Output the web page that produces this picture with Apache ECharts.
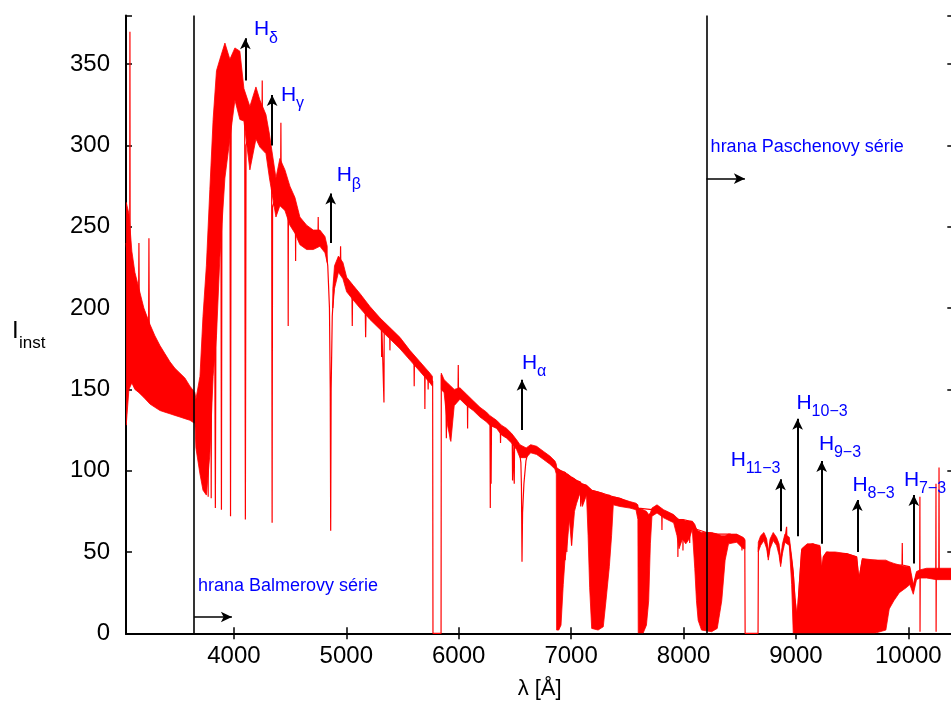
<!DOCTYPE html>
<html><head><meta charset="utf-8">
<script src="https://cdn.jsdelivr.net/npm/echarts@6/dist/echarts.min.js"></script>
<style>html,body{margin:0;padding:0;background:#fff}#c{width:951px;height:709px}</style>
</head><body><div id="c"></div>
<script>
// ---- main spectrum trace (wavelength in Å, instrumental intensity) ----
const specLam = [3042,3060,3073,3075,3077,3092,3119,3150,3155,3160,3199,3240,3244,3248,3297,3342,3386,3431,3475,3520,3564,3609,3646,
3662,3680,3698,3712,3718,3722,3726,3730,3734,3738,3746,3750,3754,3766,3771,3776,3793,3798,3803,3825,3835,3845,3870,3883,3889,3895,3920,3950,3964,3970,3976,4000,4030,4060,4085,4096,4102,4108,
4130,4160,4196,4231,4250,4252,4254,4285,4310,4330,4336,4340,4344,4370,4395,4416,4418,4420,4450,4481,4483,4485,4520,4547,4549,4551,4590,4650,4710,4748,4750,4752,4790,4815,4835,4850,4857,4861,4865,4875,4895,4928,4947,4949,4951,4975,
5003,5050,5053,5056,5121,5168,5172,5176,5210,5260,5312,5314,5316,5333,5335,5337,5386,5388,5390,5477,5566,5602,5604,5606,5655,5697,5699,5701,5726,5728,5730,5768,5771,5843,5845,5862,5885,5890,5894,5898,5903,5920,5925,5930,5950,5994,5996,5998,
6040,6077,6079,6081,6129,6189,6248,6278,6281,6284,6288,6292,6337,6370,6372,6374,6426,6476,6479,6482,6491,6494,6497,6520,6540,6553,6558,6563,6568,6580,6598,6619,6664,6708,6752,6811,6856,6868,
6871,6944,6947,6950,6960,6962,6964,7002,7004,7006,7049,7083,7085,7087,7137,7183,7286,7375,7434,7523,7577,7597,7719,7764,7806,7808,7810,7853,7912,7948,7950,7952,7993,7995,7997,8053,8055,8057,8078,8115,8204,8300,8413,8473,8518,8520,8522,8545,8548,8663,8666,
8686,8715,8740,8754,8770,8798,8828,8850,8864,8880,8902,8915,8917,8919,8941,8962,8976,8991,9010,9030,9051,9100,9150,9214,9229,9244,9273,9350,9450,9540,9560,9590,9700,9800,9871,9944,9946,9948,10008,10044,10073,10101,10103,10104,10106,10162,10244,10246,10247,10249,10271,10273,10275,10400];
const specI = [240,222,214,370,212,205,192,183,240,180,174,168,243,166,161,157,153,150,148,146,144,141,139,
132,126,128,138,136,93,140,142,90,150,160,86,170,190,84,205,225,83,240,270,77,300,325,330,76,338,345,338,332,72,335,345,348,338,325,315,70,300,
306,318,322,316,312,340,311,305,293,282,275,68,262,268,280,284,314,284,277,268,189,267,261,257,229,256,249,244,242,242,256,241,242,238,226,200,150,63,150,195,219,228,228,238,227,223,
215,211,189,210,205,201,182,200,197,193,190,170,189,188,142,187,185,174,184,178,171,168,152,167,164,161,138,160,158,150,157,155,0,0,159,154,150,120,140,135,148,146,119,145,148,149,165,148,
146,144,126,143,140,136,133,131,77,130,92,130,129,126,117,125,123,120,94,119,118,92,117,115,112,105,90,44,74,92,106,112,114,112,110,107,104,103,
101,99,45,99,98,50,98,96,54,96,94,93,78,92,91,88,86,84,83,80,79,77,76,78,75,63.5,74,73,71,70,47,70,70,51,70,69,55.5,69,68,64,62,61,61,59,58,51,58,57,0,0,53,
57,60,55,47,55,60,57,52,43,52,58,59,65.5,58,56,45,37,22,8,30,51,54,55,53,37,47,50,49,49,47,33,45,45,44,42,42,55.5,42,41,27,37,38,84,1,37,37,37,92,1,37,37,102,37,37];

// ---- noise / absorption-band envelopes (lower and upper extent) ----
const bandUV = {
  lam:[3042,3066,3092,3119,3155,3199,3253,3297,3342,3386,3431,3475,3520,3564,3609,3653,3662,3698,3725,3755,3786,3815,3845,3875,3920,3964,4009,4053,4089,4142,4196,4231,4285,4316,4374,4409,4454,4498,4543,4587,4647,4706,4765,4810,4830],
  lo: [128,150,154,150,148,145,141,139,137,136,135,134,133,132,131,129,114,98,88,85,110,158,183,231,280,304,328,316,315,285,304,299,295,280,256,263,260,251,246,239,236,236,238,234,228],
  hi: [265,258,235,222,212,200,190,183,177,172,167,163,160,157,152,148,144,158,195,226,273,316,346,353,363,353,360,358,335,324,336,328,319,307,280,292,285,275,268,256,251,248,248,244,238]
};
const bandGreen = {
  lam:[4880,4895,4930,4970,5003,5061,5121,5210,5299,5388,5477,5566,5655,5744,5766],
  lo: [200,212,222,218,210,205,200,193,187,181,175,168,161,154,152],
  hi: [212,226,232,228,219,214,209,201,194,188,182,174,167,160,158]
};
const bandRed = {
  lam:[5845,5870,5900,5930,5960,6011,6070,6129,6189,6248,6275,6337,6380,6426,6470,6515,6545,6600,6640,6693,6752,6811,6856,6868,6871,6890,6910,6930,6945,6965,6985,7004,7030,7049,7078,7100,7137,7151,7165,7183,7240,7286,7310,7340,7360,7375,7434,7523,7577,7594,7597,7640,7670,7690,7705,7719,7764,7823,7853,7912,7942,7960,7990,8020,8050,8078,8100,8115,8130,8160,8250,8300,8340,8370,8400,8473,8530,8545],
  lo: [150,148,128,118,140,144,140,137,133,130,128,126,122,120,117,113,108,108,111,110,107,104,101,98,2,2,5,30,45,55,70,54,75,80,86,78,85,60,28,3,2,4,20,41,60,79,78,77,76,70,0,0,5,20,55,72,74,71,70,68,60,52,58,55,58,64,40,20,8,2,1,3,20,45,55,56,52,52],
  hi: [160,156,154,152,150,151,147,143,139,136,134,131,128,126,123,119,116,114,116,115,112,109,106,104,102,101,100,99,99,98,97,96,95,94,93,92,91,90,89,88,87,86,85,85,84,84,83,81,80,79,77,76,75,73,74,77,79,76,75,73,71,70,70,69,69,69,67,64,63,62,62,61,60,60,61,61,59,58]
};
const bandIR = {
  lam:[8665,8686,8715,8740,8754,8770,8798,8828,8850,8864,8880,8902,8941,8962,8976,8991,9010,9030,9051,9100,9150,9214,9229,9244,9273,9350,9450,9540,9560,9590,9700,9800,9830,9871,9920,9980,10014,10044,10073,10103,10162,10250,10400],
  lo: [50,54,57,52,45,52,57,54,48,41,49,56,54,30,0,0,0,0,0,0,0,0,0,0,0,0,0,0,0,0,0,2,15,20,25,28,30,24,33,34,34,33,33],
  hi: [56,60,62,58,50,58,62,59,55,46,55,61,59,47,38,22,10,30,52,55,55,54,38,47,50,50,49,47,33,46,45,45,44,43,42,41,41,30,38,39,40,40,40]
};
const bands = [bandUV, bandGreen, bandRed, bandIR];

// ---- annotations ----
const edgeLam = [3646, 8204];
const edgeText = ['hrana Balmerovy série', 'hrana Paschenovy série'];
const edgeTextLam = [3680, 8241];
const edgeTextI = [25.4, 295.4];
const edgeArrowI = [10, 279.6];
const edgeArrowEnd = [3982, 8546];

const lineLam = [4102, 4340, 4861, 6563, 8863, 9015, 9229, 9546, 10049];
const arrowFrom = [340, 300, 240, 125, 62.7, 59.7, 55, 50, 43];
const arrowTo = [366, 331, 270.5, 156, 94.7, 132, 106, 82, 85];
const labelSub = ['δ', 'γ', 'β', 'α', '11−3', '10−3', '9−3', '8−3', '7−3'];
const labelLam = [4178, 4418, 4916, 6562, 8419, 9006, 9205, 9504, 9961];
const labelI = [366.7, 326.7, 277, 161.5, 102, 137, 111.7, 86.5, 89.8];

const xTicks = [4000, 5000, 6000, 7000, 8000, 9000, 10000];

const FONT = '"Liberation Sans", Arial, Helvetica, sans-serif';
const chart = echarts.init(document.getElementById('c'), null, {renderer: 'canvas'});

const markArrows = [];
for (let i = 0; i < lineLam.length; i++) {
  markArrows.push([{coord: [lineLam[i], arrowFrom[i]]}, {coord: [lineLam[i], arrowTo[i]]}]);
}
for (let i = 0; i < edgeLam.length; i++) {
  markArrows.push([{coord: [edgeLam[i], edgeArrowI[i]], lineStyle: {width: 1.5}}, {coord: [edgeArrowEnd[i], edgeArrowI[i]]}]);
}

const axisCommon = {
  type: 'value', axisLine: {show: true, lineStyle: {color: '#000', width: 2}},
  splitLine: {show: false}
};

chart.setOption({
  animation: false,
  backgroundColor: '#fff',
  grid: {left: 126, top: 15.4, right: -2.3, bottom: 75.7, outerBoundsMode: 'none', containLabel: false},
  xAxis: [
    Object.assign({}, axisCommon, {
      min: 3040, max: 10400, position: 'bottom',
      axisTick: {inside: true, length: 6, lineStyle: {color: '#000', width: 1.5}, customValues: xTicks},
      axisLabel: {customValues: xTicks, color: '#000', fontSize: 24, fontFamily: FONT, margin: 11,
        formatter: v => String(v)},
      name: 'λ [Å]', nameLocation: 'middle', nameGap: 45,
      nameTextStyle: {color: '#000', fontSize: 22, fontFamily: FONT}
    }),
    Object.assign({}, axisCommon, {
      min: 3040, max: 10400, position: 'top',
      axisTick: {inside: true, length: 6, lineStyle: {color: '#000', width: 1.5}, customValues: xTicks},
      axisLabel: {show: false}
    })
  ],
  yAxis: [
    Object.assign({}, axisCommon, {
      min: 0, max: 380, interval: 50, position: 'left',
      axisTick: {inside: true, length: 6, lineStyle: {color: '#000', width: 1.5}},
      axisLabel: {color: '#000', fontSize: 24, fontFamily: FONT, margin: 16,
        formatter: v => (v % 50 === 0 ? String(v) : '')}
    }),
    Object.assign({}, axisCommon, {
      min: 0, max: 380, interval: 50, position: 'right',
      axisTick: {inside: true, length: 6, lineStyle: {color: '#000', width: 1.5}},
      axisLabel: {show: false}
    })
  ],
  series: [
    {
      type: 'custom', coordinateSystem: 'cartesian2d', clip: true, silent: true, z: 2,
      data: bands.map((b, i) => [b.lam[0], i]),
      renderItem: (params, api) => {
        const b = bands[api.value(1)];
        const pts = [];
        for (let k = 0; k < b.lam.length; k++) pts.push(api.coord([b.lam[k], b.hi[k]]));
        for (let k = b.lam.length - 1; k >= 0; k--) pts.push(api.coord([b.lam[k], b.lo[k]]));
        return {type: 'polygon', shape: {points: pts}, style: {fill: '#ff0000', stroke: '#ff0000', lineWidth: 0.8}};
      }
    },
    {
      type: 'line', name: 'spektrum', z: 3, clip: true, showSymbol: false, silent: true,
      data: specLam.map((l, i) => [l, specI[i]]),
      lineStyle: {color: '#ff0000', width: 1.2}
    },
    {
      type: 'line', data: [], z: 5, silent: true,
      markLine: {
        silent: true, animation: false, symbol: 'none', label: {show: false},
        lineStyle: {color: '#000', width: 1.6, type: 'solid'},
        data: edgeLam.map(l => ({xAxis: l}))
      }
    },
    {
      type: 'line', data: [], z: 6, silent: true,
      markLine: {
        silent: true, animation: false, symbol: ['none', 'arrow'], symbolSize: [8, 11], label: {show: false},
        lineStyle: {color: '#000', width: 2, type: 'solid'},
        data: markArrows
      }
    }
  ]
});

// text annotations positioned through the axes
const g = [];
const HF = 21, SF = 16;
function txt(text, x, baseline, fs, color, align) {
  return {type: 'text', z: 100, style: {text: text, x: x, y: baseline - 0.35 * fs, fill: color,
    font: fs + 'px ' + FONT, align: align || 'left', verticalAlign: 'middle'}};
}
for (let i = 0; i < labelSub.length; i++) {
  const p = chart.convertToPixel({xAxisIndex: 0, yAxisIndex: 0}, [labelLam[i], labelI[i]]);
  g.push(txt('H', p[0], p[1], HF, '#0000ff'));
  g.push(txt(labelSub[i], p[0] + 15, p[1] + 7, SF, '#0000ff'));
}
for (let i = 0; i < edgeText.length; i++) {
  const p = chart.convertToPixel({xAxisIndex: 0, yAxisIndex: 0}, [edgeTextLam[i], edgeTextI[i]]);
  g.push(txt(edgeText[i], p[0], p[1], 18, '#0000ff'));
}
g.push(txt('I', 12, 340, 24, '#000'));
g.push(txt('inst', 19, 349, 17, '#000'));
chart.setOption({graphic: g});
</script>
</body></html>
